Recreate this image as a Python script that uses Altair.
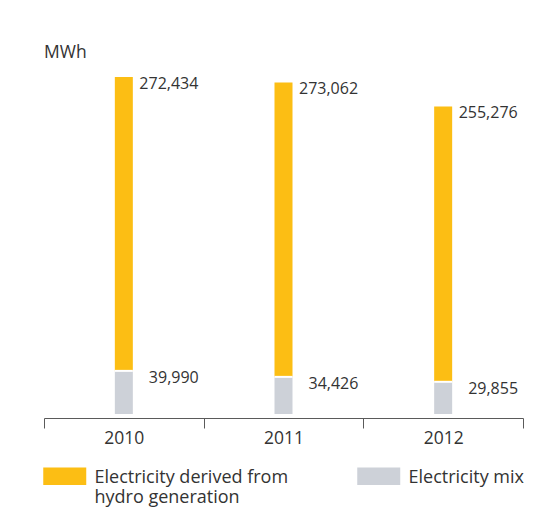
import altair as alt
import pandas as pd

years = ["2010", "2011", "2012"]
hydro = [272434, 273062, 255276]
mix = [39990, 34426, 29855]
series_names = ["Electricity derived from hydro generation", "Electricity mix"]
colors = ["#FCBE14", "#CDD1D8"]

wide = pd.DataFrame({"year": years, "hydro": hydro, "mix": mix})
wide["total"] = wide["hydro"] + wide["mix"]

long = pd.DataFrame({
    "year": years * 2,
    "series": [series_names[0]] * 3 + [series_names[1]] * 3,
    "value": hydro + mix,
    "ord": [1] * 3 + [0] * 3,
})

FONT = "Open Sans"
TXT = "#333333"
AX = "#5a5a5a"

x_enc = alt.X(
    "year:N",
    scale=alt.Scale(paddingInner=0, paddingOuter=0),
    axis=alt.Axis(
        title=None, labelAngle=0, tickBand="extent", tickSize=10, offset=4,
        domainColor=AX, tickColor=AX, labelFontSize=17.5, labelPadding=1.5,
        labelColor=TXT, labelFont=FONT, grid=False, domainWidth=1, tickWidth=1,
    ),
)
y_scale = alt.Scale(domain=[0, 326400], nice=False, zero=True)

bars = alt.Chart(long).mark_bar(size=18).encode(
    x=x_enc,
    y=alt.Y("value:Q", stack="zero", scale=y_scale, axis=None),
    color=alt.Color(
        "series:N",
        scale=alt.Scale(domain=series_names, range=colors),
        legend=alt.Legend(
            title=None, orient="none", legendX=-1, legendY=398,
            direction="horizontal",
            symbolType="M-1,-0.166H3.914V1.834H-1Z", symbolSize=306.25,
            symbolStrokeWidth=0, symbolOpacity=1,
            labelBaseline="top", labelFontSize=18, labelFont=FONT,
            labelColor=TXT, labelLimit=400, labelOffset=33.5,
            columnPadding=68, padding=0,
            labelExpr="datum.label == 'Electricity derived from hydro generation' ? ['Electricity derived from', 'hydro generation'] : [datum.label, ' ']",
        ),
    ),
    order=alt.Order("ord:Q"),
)

sep = alt.Chart(wide).mark_tick(color="white", thickness=2, size=18, opacity=1).encode(
    x=x_enc,
    y=alt.Y("mix:Q", scale=y_scale, axis=None),
)

hydro_lbl = alt.Chart(wide).mark_text(
    align="left", baseline="top", dx=15.5, dy=-1.5, fontSize=16, font=FONT, color=TXT
).encode(
    x=x_enc,
    y=alt.Y("total:Q", scale=y_scale, axis=None),
    text=alt.Text("hydro:Q", format=",d"),
)

mix_lbl = alt.Chart(wide).mark_text(
    align="left", baseline="top", dx=25, dy=-1, fontSize=16, font=FONT, color=TXT
).encode(
    x=x_enc,
    y=alt.Y("mix:Q", scale=y_scale, axis=None),
    text=alt.Text("mix:Q", format=",d"),
)

chart = alt.layer(bars, sep, hydro_lbl, mix_lbl).properties(
    width=479, height=352,
    autosize=alt.AutoSizeParams(type="none"),
    padding={"left": 36, "top": 54, "right": 13, "bottom": 104},
    background="white",
    title=alt.TitleParams(
        "MWh", anchor="start", frame="group", fontSize=17.5, font=FONT,
        fontWeight="normal", color=TXT, offset=0, dy=13, baseline="alphabetic",
    ),
).configure_view(stroke=None)

chart.save("out.html", embed_options={"renderer": "svg", "actions": False})
